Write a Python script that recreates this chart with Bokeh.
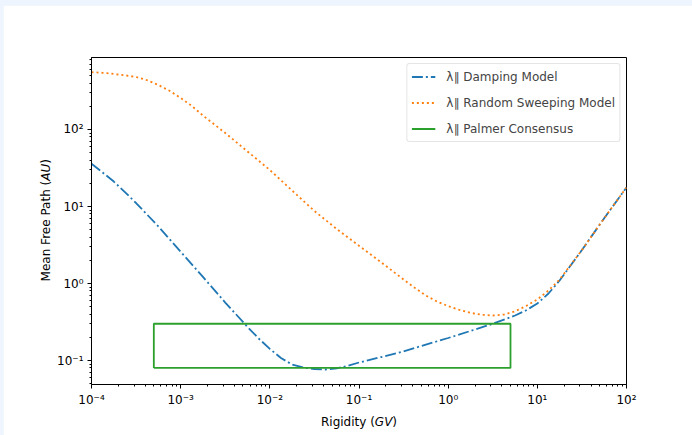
import math
from bokeh.plotting import figure
from bokeh.models import (Range1d, FixedTicker, CustomJSTickFormatter, Label,
                          Legend, LegendItem)
from bokeh.embed import file_html
from bokeh.resources import INLINE

# ---- data ----
damping_log_rigidity = [-4.0, -3.875, -3.75, -3.625, -3.5, -3.25, -3.0, -2.75, -2.5,
                        -2.25, -2.125, -2.0, -1.875, -1.75, -1.625, -1.5, -1.375,
                        -1.25, -1.125, -1.0, -0.75, -0.5, -0.25, 0.0, 0.25, 0.5,
                        0.75, 0.875, 1.0, 1.125, 1.25, 1.5, 1.75, 2.0]
damping = [35.9, 27.6, 21.1, 15.4, 11.1, 5.50, 2.59, 1.22, 0.566,
           0.273, 0.193, 0.1415, 0.1077, 0.0887, 0.0811, 0.0776, 0.0764,
           0.0792, 0.0853, 0.0942, 0.111, 0.131, 0.161, 0.196, 0.242, 0.300,
           0.384, 0.449, 0.550, 0.741, 1.094, 2.72, 7.05, 17.7]
sweeping_log_rigidity = [-4.0, -3.875, -3.75, -3.625, -3.5, -3.375, -3.25, -3.125,
                         -3.0, -2.875, -2.75, -2.5, -2.25, -2.0, -1.75, -1.5,
                         -1.25, -1.0, -0.75, -0.5, -0.375, -0.25, -0.125, 0.0,
                         0.125, 0.25, 0.375, 0.5, 0.625, 0.75, 0.875, 1.0,
                         1.125, 1.25, 1.5, 1.75, 2.0]
sweeping = [555, 545, 526, 506, 481, 436, 378, 318,
            257, 202, 152, 90.1, 51.8, 29.8, 16.1, 8.75,
            5.10, 3.09, 1.88, 1.127, 0.879, 0.698, 0.583, 0.508,
            0.455, 0.416, 0.393, 0.384, 0.395, 0.435, 0.511, 0.619,
            0.811, 1.127, 2.72, 7.05, 17.7]
palmer_x = [5e-4, 5.0, 5.0, 5e-4, 5e-4]
palmer_y = [0.08, 0.08, 0.3, 0.3, 0.08]
labels = ["\u03bb\u2225 Damping Model", "\u03bb\u2225 Random Sweeping Model",
          "\u03bb\u2225 Palmer Consensus"]
x_major = [1e-4, 1e-3, 1e-2, 1e-1, 1e0, 1e1, 1e2]
y_major = [1e-1, 1e0, 1e1, 1e2]

damping_rigidity = [10.0 ** e for e in damping_log_rigidity]
sweeping_rigidity = [10.0 ** e for e in sweeping_log_rigidity]

FONT = "DejaVu Sans"
FS = "12px"

p = figure(width=689, height=430, x_axis_type="log", y_axis_type="log",
           x_range=Range1d(1e-4, 1e2), y_range=Range1d(0.0488, 861),
           output_backend="svg", toolbar_location=None, title=None,
           min_border_left=88, min_border_right=66, min_border_top=52,
           min_border_bottom=51)
p.background_fill_color = "white"
p.border_fill_color = "white"
p.outline_line_color = "black"
p.outline_line_width = 1
p.xgrid.visible = False
p.ygrid.visible = False

x_minor = [m * 10.0 ** e for e in range(-4, 2) for m in range(2, 10)]
y_minor = [m * 10.0 ** e for e in range(-2, 3) for m in range(2, 10)]
p.xaxis.ticker = FixedTicker(ticks=x_major, minor_ticks=x_minor)
p.yaxis.ticker = FixedTicker(ticks=y_major, minor_ticks=y_minor)

fmt = CustomJSTickFormatter(code="""
const e = Math.round(Math.log10(tick));
const sup = {"-":"\u207b","0":"\u2070","1":"\u00b9","2":"\u00b2","3":"\u00b3",
             "4":"\u2074","5":"\u2075","6":"\u2076","7":"\u2077","8":"\u2078","9":"\u2079"};
return "10" + String(e).split("").map(c => sup[c]).join("");
""")
for ax in (p.xaxis[0], p.yaxis[0]):
    ax.formatter = fmt
    ax.axis_line_color = "black"
    ax.major_tick_line_color = "black"
    ax.minor_tick_line_color = "black"
    ax.major_tick_in = 0
    ax.major_tick_out = 4
    ax.minor_tick_in = 0
    ax.minor_tick_out = 2
    ax.major_label_text_font = FONT
    ax.major_label_text_font_size = FS
    ax.major_label_text_color = "black"
    ax.major_label_standoff = 4

r1 = p.line(damping_rigidity, damping, line_color="#1f77b4", line_width=1.8,
            line_dash="11 3 2 3")
r2 = p.line(sweeping_rigidity, sweeping, line_color="#ff7f0e", line_width=1.8,
            line_dash="2 3")
r3 = p.line(palmer_x, palmer_y, line_color="#2ca02c", line_width=1.8)

legend = Legend(items=[LegendItem(label=labels[0], renderers=[r1]),
                       LegendItem(label=labels[1], renderers=[r2]),
                       LegendItem(label=labels[2], renderers=[r3])],
                location="top_right", margin=6, padding=4, spacing=9,
                glyph_width=24, glyph_height=17, label_height=17,
                label_standoff=11, label_text_font=FONT,
                label_text_font_size=FS, border_line_color="#cccccc",
                border_line_width=1, background_fill_alpha=0.8)
if "border_radius" in Legend.properties():
    legend.border_radius = 3
p.add_layout(legend)

# axis titles (italic units); held in side panels so they are not clipped,
# positioned through the data scales
def lab(x, y, text, align, style, side, angle=0.0):
    p.add_layout(Label(x=x, y=y, text=text, text_align=align,
                       text_baseline="alphabetic", text_font=FONT,
                       text_font_size=FS, text_color="black",
                       text_font_style=style, angle=angle), side)

xl_y = 0.01614
lab(0.1505, xl_y, "Rigidity (", "right", "normal", "below")
lab(0.1505, xl_y, "GV", "left", "italic", "above")
lab(0.2365, xl_y, ")", "left", "normal", "above")

yl_x = 3.128e-5
lab(yl_x, 21.6, "Mean Free Path (", "right", "normal", "left", math.pi / 2)
lab(yl_x, 21.6, "AU", "left", "italic", "left", math.pi / 2)
lab(yl_x, 35.9, ")", "left", "normal", "left", math.pi / 2)

html = file_html(p, INLINE)
html = html.replace("</head>",
                    "<style>body{background:#eef5fe !important;"
                    "padding:5px 0 0 3px !important;}</style></head>", 1)
open("out.html", "w").write(html)
